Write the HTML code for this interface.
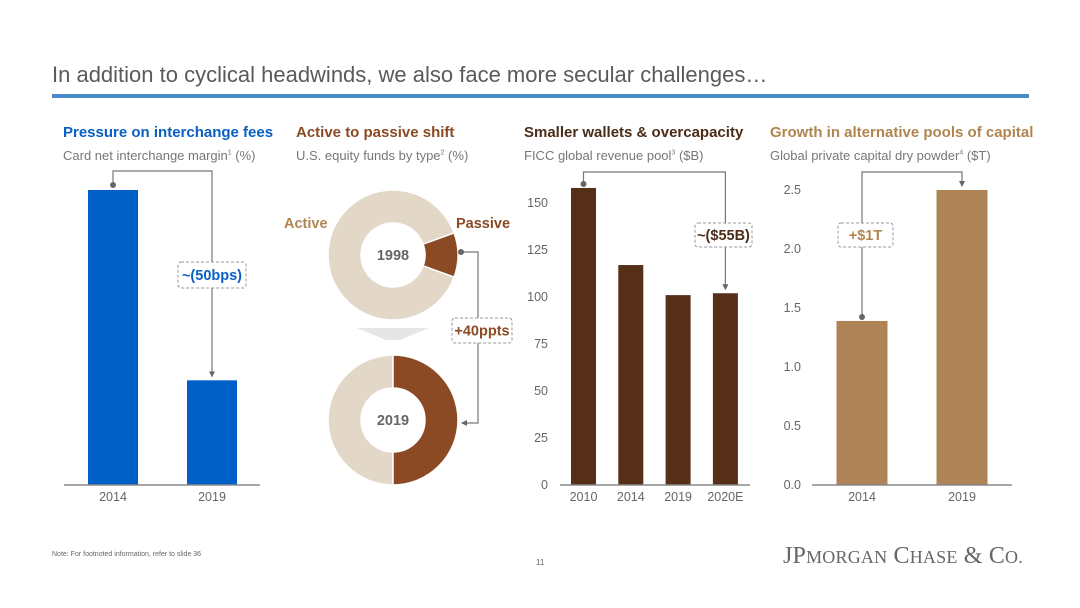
<!DOCTYPE html>
<html><head><meta charset="utf-8"><style>
body{margin:0;width:1080px;height:608px;background:#fff;font-family:"Liberation Sans",sans-serif;overflow:hidden;position:relative}
.t{position:absolute;white-space:nowrap}
</style></head><body>
<div class="t" style="left:52px;top:62px;font-size:22px;color:#5a5a5a">In addition to cyclical headwinds, we also face more secular challenges…</div>
<div style="position:absolute;left:52px;top:94px;width:977px;height:4px;background:#4a8ac9"></div>
<div class="t" style="left:63px;top:124px;font-size:15px;font-weight:bold;color:#0a5fc4">Pressure on interchange fees</div>
<div class="t" style="left:63px;top:148px;font-size:13px;color:#777">Card net interchange margin<sup style="font-size:7px">1</sup> (%)</div>
<div class="t" style="left:296px;top:124px;font-size:15px;font-weight:bold;color:#8b4a23">Active to passive shift</div>
<div class="t" style="left:296px;top:148px;font-size:13px;color:#777">U.S. equity funds by type<sup style="font-size:7px">2</sup> (%)</div>
<div class="t" style="left:524px;top:124px;font-size:15px;font-weight:bold;color:#4a2c17">Smaller wallets &amp; overcapacity</div>
<div class="t" style="left:524px;top:148px;font-size:13px;color:#777">FICC global revenue pool<sup style="font-size:7px">3</sup> ($B)</div>
<div class="t" style="left:770px;top:124px;font-size:15px;font-weight:bold;color:#b08550">Growth in alternative pools of capital</div>
<div class="t" style="left:770px;top:148px;font-size:13px;color:#777">Global private capital dry powder<sup style="font-size:7px">4</sup> ($T)</div>
<svg id="s" width="1080" height="608" style="position:absolute;left:0;top:0" font-family="Liberation Sans, sans-serif">
<defs><marker id="ar" markerWidth="6" markerHeight="6" refX="5" refY="3" orient="auto" markerUnits="userSpaceOnUse"><path d="M0,0 L6,3 L0,6 Z" fill="#666"/></marker></defs>
</svg>
<div class="t" style="left:52px;top:551px;font-size:7px;color:#666">Note: For footnoted information, refer to slide 36</div>
<div class="t" style="left:536px;top:558px;font-size:8px;color:#666">11</div>
<div class="t" style="left:783px;top:543px;font-family:'Liberation Serif',serif;font-size:24px;color:#666;letter-spacing:0.2px">JP<span style="font-size:18px">MORGAN</span> C<span style="font-size:18px">HASE</span> &amp; C<span style="font-size:18px">O.</span></div>
<script>
const s=document.getElementById('s');const NS='http://www.w3.org/2000/svg';
function el(t,a,txt){const e=document.createElementNS(NS,t);for(const k in a)e.setAttribute(k,a[k]);if(txt!==undefined)e.textContent=txt;s.appendChild(e);return e;}
// data
const p1Cats=['2014','2019'];const p1Vals=[1.55,0.55];
const p2Years=['1998','2019'];const p2Passive=[0.11,0.5];
const p3Cats=['2010','2014','2019','2020E'];const p3Vals=[158,117,101,102];const p3Ticks=[0,25,50,75,100,125,150];
const p4Cats=['2014','2019'];const p4Vals=[1.39,2.5];const p4Ticks=['0.0','0.5','1.0','1.5','2.0','2.5'];
const base=485;
function bars(cats,vals,x0,step,w,scale,color,name,axisX1,axisX2){
  const tops=[];
  cats.forEach((c,i)=>{const cx=x0+i*step;const h=vals[i]*scale;
    const r=el('rect',{x:cx-w/2,y:base-h,width:w,height:h,fill:color});
    
    
    const t=el('text',{x:cx,y:base+16,'text-anchor':'middle','font-size':12.5,fill:'#666'},c);
    
    
    tops.push([cx,base-h]);});
  const a=el('line',{x1:axisX1,x2:axisX2,y1:base,y2:base,stroke:'#888','stroke-width':1.5});
  
  
  return tops;
}
function conn(pts,name){const l=el('polyline',{points:pts.map(p=>p.join(',')).join(' '),fill:'none',stroke:'#777','stroke-width':1.2,'marker-end':'url(#ar)'});
  
  
  el('circle',{cx:pts[0][0],cy:pts[0][1],r:3,fill:'#666'});}
function box(x,y,w,h,txt,color,name){const r=el('rect',{x:x,y:y,width:w,height:h,rx:3,fill:'#fff',stroke:'#999','stroke-dasharray':'3,2'});
  
  
  el('text',{x:x+w/2,y:y+h/2+5,'text-anchor':'middle','font-size':14.5,'font-weight':'bold',fill:color},txt);}
// panel1
const s1=295/1.55;
const t1=bars(p1Cats,p1Vals,113,99,50,s1,'#0060c8','interchange',64,260);
conn([[t1[0][0],t1[0][1]-5],[t1[0][0],171],[t1[1][0],171],[t1[1][0],t1[1][1]-4]],'interchange-connector');
box(178,262,68,26,'~(50bps)','#0a5fc4','interchange-change-box');
// panel3
const s3=282/150;
p3Ticks.forEach(v=>{const t=el('text',{x:548,y:base-v*s3+4,'text-anchor':'end','font-size':12.5,fill:'#666'},v);
  
  });
const t3=bars(p3Cats,p3Vals,583.5,47.3,25,s3,'#552f18','ficc',560,750);
conn([[t3[0][0],t3[0][1]-4],[t3[0][0],172],[t3[3][0],172],[t3[3][0],t3[3][1]-4]],'ficc-connector');
box(695,223,57,24,'~($55B)','#4a2c17','ficc-change-box');
// panel4
const s4=295/2.5;
p4Ticks.forEach(v=>{const t=el('text',{x:801,y:base-parseFloat(v)*s4+4,'text-anchor':'end','font-size':12.5,fill:'#666'},v);
  
  });
const t4=bars(p4Cats,p4Vals,862,100,51,s4,'#ae8456','dry-powder',812,1012);
conn([[t4[0][0],t4[0][1]-4],[t4[0][0],172],[t4[1][0],172],[t4[1][0],t4[1][1]-4]],'dry-powder-connector');
box(838,223,55,24,'+$1T','#b08550','dry-powder-change-box');
// panel2 donuts
const ro=65,ri=32;
function arc(cx,cy,a0,a1,fill,name){
  const P=(r,a)=>(cx+r*Math.sin(a)).toFixed(2)+','+(cy-r*Math.cos(a)).toFixed(2);
  const lg=(a1-a0)>Math.PI?1:0;
  const d='M'+P(ro,a0)+' A'+ro+','+ro+' 0 '+lg+' 1 '+P(ro,a1)+' L'+P(ri,a1)+' A'+ri+','+ri+' 0 '+lg+' 0 '+P(ri,a0)+' Z';
  const p=el('path',{d:d,fill:fill,stroke:'#fff','stroke-width':1.5});
  
  }
const centers=[[393,255],[393,420]];
p2Years.forEach((y,i)=>{const [cx,cy]=centers[i];const p=p2Passive[i];const half=p*Math.PI;
  const a0=Math.PI/2-half,a1=Math.PI/2+half;
  arc(cx,cy,a1,a0+2*Math.PI,'#e3d7c8','donut-'+y+'-active');
  arc(cx,cy,a0,a1,'#8b4a23','donut-'+y+'-passive');
  const t=el('text',{x:cx,y:cy+5,'text-anchor':'middle','font-size':14.5,'font-weight':'bold',fill:'#666'},y);
  
  });
const lA=el('text',{x:284,y:228,'font-size':14.5,'font-weight':'bold',fill:'#b08550'},'Active');


const lP=el('text',{x:456,y:228,'font-size':14.5,'font-weight':'bold',fill:'#8b4a23'},'Passive');


const ch=el('path',{d:'M357,328 L429,328 L400,340 L386,340 Z',fill:'#e6e6e6'});


conn([[461,252],[478,252],[478,423],[462,423]],'passive-connector');
box(452,318,60,25,'+40ppts','#8b4a23','passive-change-box');
</script>
</body></html>
